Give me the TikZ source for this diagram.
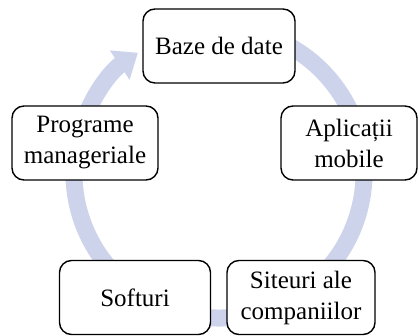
\documentclass[tikz,border=0pt]{standalone}
\usepackage{fontspec}
\setmainfont{Liberation Serif}
\usepackage{tikz}
\usetikzlibrary{arrows.meta, calc}
\definecolor{ringblue}{RGB}{205,211,234}

\begin{document}
\begin{tikzpicture} [x=1pt, y=1pt, align=center,
  box/.style={draw, line width=1.4pt, rounded corners=12pt, fill=white,
    minimum width=148pt, minimum height=74pt, inner sep=0pt,
    font=\fontsize{25}{31}\selectfont},
  ring/.style={draw=ringblue, line width=17pt}]
\useasboundingbox (0,0) rectangle (419,336);

% the cycle behind the boxes
\coordinate (ringstart) at ($(219,163)+(75:145)$);
\draw[ring, -{Triangle[width=34pt, length=22pt]}] (ringstart)
  arc[start angle=75, end angle=-236, radius=145];

\path (219,290) node[box, minimum width=152pt] (baze) {Baze de date}
      (349,193) node[box, minimum width=136pt] (aplicatii) {Aplicații\\mobile}
      (301,38.5) node[box] (siteuri) {Siteuri ale\\companiilor}
      (135,38.5) node[box, minimum width=151pt] (softuri) {Softuri}
      (85,193) node[box, minimum width=146pt] (programe) {Programe\\manageriale};

\end{tikzpicture}
\end{document}
